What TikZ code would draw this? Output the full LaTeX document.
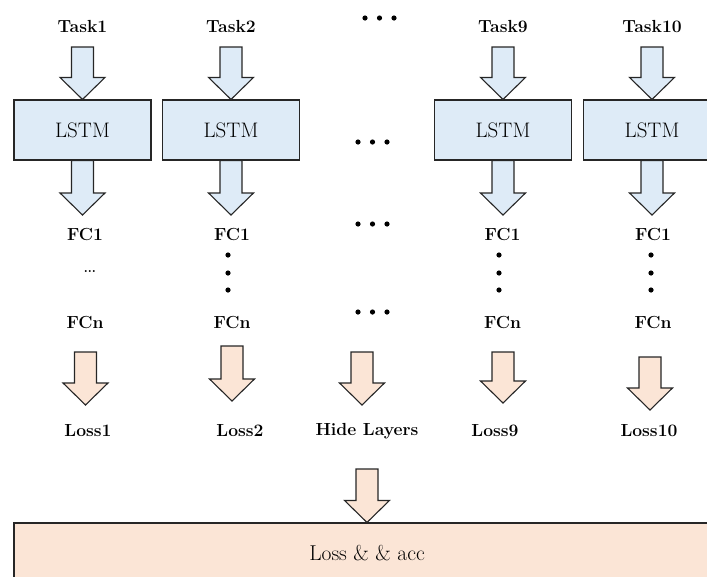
\documentclass[tikz,border=0pt]{standalone}
\usepackage{fontspec}
\setmainfont{Latin Modern Roman}
\usetikzlibrary{calc}
\definecolor{lstmblue}{HTML}{DEEBF7}
\definecolor{lossorange}{HTML}{FBE5D6}
\tikzset{
    fatarrow/.style={draw=black!85, line width=1.1pt, line join=miter},
    dotfill/.style={fill=black, radius=2.6pt}
}
% block arrow: fill colour, start, tip
\newcommand{\bigarrow}[3]{%
  \draw[fatarrow, fill=#1] let \p1=(#2), \p2=(#3) in
    (\x2-11pt,\y1) -- (\x2+11pt,\y1) -- (\x2+11pt,\y2+22pt) -- (\x2+22.5pt,\y2+22pt)
    -- (\x2,\y2) -- (\x2-22.5pt,\y2+22pt) -- (\x2-11pt,\y2+22pt) -- cycle;
}

\begin{document}
\begin{tikzpicture}[
    x=1pt, y=-1pt,
    lstmbox/.style={draw=black!85, line width=1.1pt, fill=lstmblue, minimum width=137pt, minimum height=60pt, font=\fontsize{21}{24}\selectfont},
    lossbox/.style={draw=black!85, line width=1.1pt, fill=lossorange, minimum width=706pt, minimum height=60pt, font=\fontsize{21.5}{24}\selectfont},
    lbl/.style={anchor=base, inner sep=0pt, font=\bfseries\fontsize{17.5}{20}\selectfont}
]
\clip (0,0) rectangle (707,576);

% Task columns
\foreach \k/\xc/\xf/\xo/\ot/\oe/\xl in {1/82.5/85/85.5/352/405/88, 2/231/232/232/346/401/240,
                                        9/503/502.5/503/352/403/495, 10/652/653/650/357/410/649} {
    \node[lbl] (task\k) at (\xc,32) {Task\k};
    \node[lstmbox] (lstm\k) at (\xc,130) {LSTM};
    \node[lbl] (fca\k) at (\xf,240) {FC1};
    \node[lbl] (fcn\k) at (\xf,328) {FCn};
    \node[lbl] (loss\k) at (\xl,436) {Loss\k};
    \coordinate (src\k) at (\xc,47);
    \coordinate (out\k) at (\xc,215);
    \coordinate (ltop\k) at (\xo,\ot);
    \coordinate (ltip\k) at (\xo,\oe);
    \bigarrow{lstmblue}{src\k}{lstm\k.north}
    \bigarrow{lstmblue}{lstm\k.south}{out\k}
    \bigarrow{lossorange}{ltop\k}{ltip\k}
}

% layers between FC1 and FCn
\node[anchor=base, inner sep=0pt, font=\fontsize{24}{26}\selectfont] (fcdots) at (90,272) {\dots};
\foreach \x in {228, 499, 651} {
    \foreach \y in {255, 273, 290} {
        \fill[dotfill] (\x,\y) circle;
    }
}

% middle column
\foreach \x in {365, 379.5, 394} {
    \fill[dotfill] (\x,18) circle;
}
\foreach \y in {142, 224, 312} {
    \foreach \x in {358, 372.5, 387} {
        \fill[dotfill] (\x,\y) circle;
    }
}
\node[lbl] (hide) at (367,435) {Hide Layers};
\coordinate (htop) at (362,352);
\coordinate (htip) at (362,405);
\bigarrow{lossorange}{htop}{htip}

% total loss
\node[lossbox] (lossacc) at (367,553) {Loss \& \& acc};
\coordinate (stop) at (367,469);
\bigarrow{lossorange}{stop}{lossacc.north}

\end{tikzpicture}
\end{document}
